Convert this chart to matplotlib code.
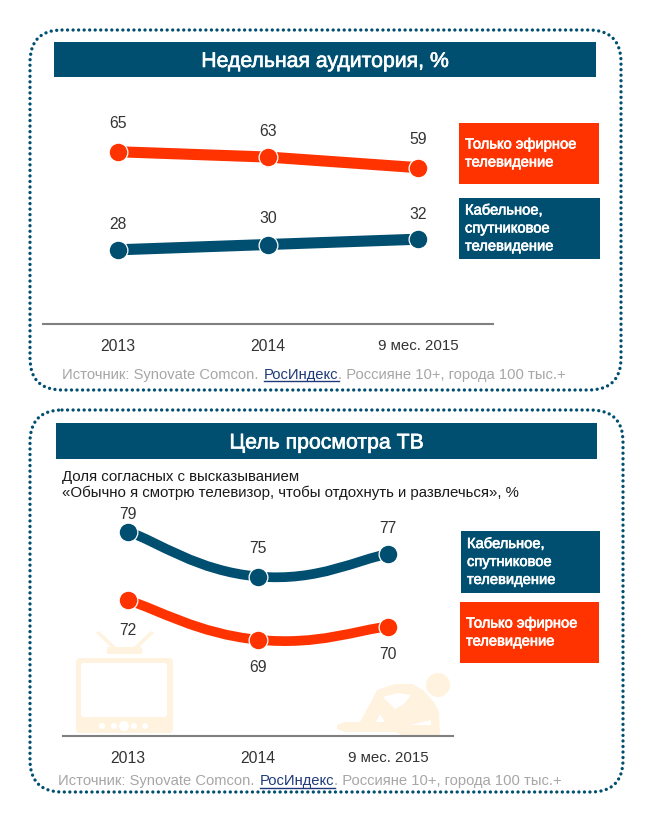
#!/usr/bin/env python3
"""Two TV audience panels: weekly reach and the reason for watching."""

import matplotlib
matplotlib.use('Agg')
import matplotlib.patheffects as pe
import matplotlib.pyplot as plt
from matplotlib.patches import Circle, FancyBboxPatch, PathPatch, Polygon, Rectangle
from matplotlib.path import Path

plt.rcParams['font.family'] = ['Liberation Sans', 'DejaVu Sans']

YEARS = ['2013', '2014', '9 мес. 2015']

AUDIENCE_AIR = [65, 63, 59]
AUDIENCE_CABLE = [28, 30, 32]
PURPOSE_CABLE = [79, 75, 77]
PURPOSE_AIR = [72, 69, 70]

LABEL_AIR = 'Только эфирное\nтелевидение'
LABEL_CABLE = 'Кабельное,\nспутниковое\nтелевидение'
TITLE_TOP = 'Недельная аудитория, %'
TITLE_BOTTOM = 'Цель просмотра ТВ'
SUBTITLE = ('Доля согласных с высказыванием\n'
            '«Обычно я смотрю телевизор, чтобы отдохнуть и развлечься», %')

NAVY = '#004F71'
RED = '#FF3300'
CREAM = '#FFF2DE'
GREY = '#A6A6A6'
LINK = '#1F3A7A'
WIDTH, HEIGHT = 650, 823
HEAVY = [pe.withStroke(linewidth=0.45, foreground='white')]

fig = plt.figure(figsize=(WIDTH / 100, HEIGHT / 100), dpi=100)

# page layer in pixels, y going down, for frames, banners and icons
page = fig.add_axes([0, 0, 1, 1], zorder=0)
page.set_xlim(0, WIDTH)
page.set_ylim(HEIGHT, 0)
page.axis('off')


def chart_axes(left, right, top, bottom, ylim):
    ax = fig.add_axes([left / WIDTH, 1 - bottom / HEIGHT,
                       (right - left) / WIDTH, (bottom - top) / HEIGHT], zorder=2)
    ax.patch.set_alpha(0)
    ax.set_xlim(-0.5, 2.5)
    ax.set_ylim(*ylim)
    for side in ['top', 'left', 'right']:
        ax.spines[side].set_visible(False)
    ax.spines['bottom'].set_color('#808080')
    ax.spines['bottom'].set_linewidth(1.5)
    ax.set_yticks([])
    ax.set_xticks(range(len(YEARS)))
    ax.set_xticklabels(YEARS, fontsize=11.3, color='#333333')
    ax.get_xticklabels()[2].set_fontsize(10.8)
    ax.tick_params(axis='x', length=0, pad=11)
    return ax


def smooth_path(xs, ys, tension=0.5):
    """Catmull-Rom style bezier through the points, like a smoothed Excel line."""
    verts = [(xs[0], ys[0])]
    codes = [Path.MOVETO]
    n = len(xs)
    for i in range(n - 1):
        x0, y0 = (xs[i - 1], ys[i - 1]) if i > 0 else (xs[i], ys[i])
        x3, y3 = (xs[i + 2], ys[i + 2]) if i + 2 < n else (xs[i + 1], ys[i + 1])
        verts.append((xs[i] + (xs[i + 1] - x0) * tension / 3,
                      ys[i] + (ys[i + 1] - y0) * tension / 3))
        verts.append((xs[i + 1] - (x3 - xs[i]) * tension / 3,
                      ys[i + 1] - (y3 - ys[i]) * tension / 3))
        verts.append((xs[i + 1], ys[i + 1]))
        codes += [Path.CURVE4] * 3
    return Path(verts, codes)


def draw_series(ax, values, color, offsets, smooth=False, linewidth=8.0):
    xs = list(range(len(values)))
    if smooth:
        ax.add_patch(PathPatch(smooth_path(xs, values, tension=0.7), fill=False,
                               edgecolor=color, linewidth=linewidth, capstyle='butt'))
    else:
        ax.plot(xs, values, color=color, linewidth=linewidth, solid_capstyle='butt')
    ax.plot(xs, values, linestyle='none', marker='o', markersize=13.5,
            markerfacecolor=color, markeredgecolor='white', markeredgewidth=0.9,
            clip_on=False)
    for x, value, offset in zip(xs, values, offsets):
        ax.annotate(str(value), (x, value), xytext=(0, offset * 0.72),
                    textcoords='offset points', ha='center', va='center',
                    fontsize=11.3, color='#333333')


def draw_frame(left, top, right, bottom):
    page.add_patch(FancyBboxPatch((left, top), right - left, bottom - top,
                                  boxstyle='round,pad=0,rounding_size=32',
                                  fill=False, edgecolor=NAVY, linewidth=2.4,
                                  linestyle=(0, (0.01, 1.65)), capstyle='round'))


def draw_banner(left, top, right, bottom, text):
    page.add_patch(Rectangle((left, top), right - left, bottom - top, color=NAVY, linewidth=0))
    page.text((left + right) / 2, (top + bottom) / 2, text, color='white',
              fontsize=15.3, ha='center', va='center_baseline', path_effects=HEAVY)


def draw_legend_box(left, top, right, bottom, color, text):
    page.add_patch(Rectangle((left, top), right - left, bottom - top, color=color, linewidth=0))
    page.text(left + 6, (top + bottom) / 2, text, color='white', fontsize=10.6,
              ha='left', va='center', linespacing=1.36, path_effects=HEAVY)


def draw_source(x, y):
    style = dict(fontsize=10.65, va='center_baseline', ha='left')
    page.text(x, y, 'Источник: Synovate Comcon.', color=GREY, **style)
    link = page.text(x + 202, y, 'РосИндекс', color=LINK, **style)
    # the tail starts where the link really ends
    link_end = link.get_window_extent(fig.canvas.get_renderer()).x1
    page.plot([x + 202, link_end], [y + 8, y + 8], color=LINK, linewidth=1)
    page.text(link_end, y, '. Россияне 10+, города 100 тыс.+', color=GREY, **style)


def draw_tv():
    page.add_patch(FancyBboxPatch((76, 658), 97, 75, boxstyle='round,pad=0,rounding_size=4',
                                  color=CREAM, linewidth=0))
    page.add_patch(FancyBboxPatch((81, 663), 86, 54, boxstyle='round,pad=0,rounding_size=3',
                                  color='white', linewidth=0))
    page.add_patch(Rectangle((107, 647), 35, 7, color=CREAM, linewidth=0))
    page.add_patch(Polygon([(112, 648), (96, 633), (99, 631), (116, 647)], color=CREAM, linewidth=0))
    page.add_patch(Polygon([(138, 648), (154, 633), (151, 631), (134, 647)], color=CREAM, linewidth=0))
    for x, radius in [(102, 3), (114, 3), (124, 5), (134, 3), (145, 3)]:
        page.add_patch(Circle((x, 726), radius, color='white', linewidth=0))


def draw_person():
    page.add_patch(Circle((438, 685), 12, color=CREAM, linewidth=0))
    page.add_patch(Polygon([(377, 690), (395, 684), (412, 684), (423, 690), (434, 702),
                            (439, 712), (440, 735), (402, 735), (395, 732), (345, 732),
                            (337, 729), (337, 725), (345, 722), (360, 722), (372, 700)],
                           color=CREAM, linewidth=0))
    page.add_patch(Polygon([(383, 697), (398, 693), (411, 695), (404, 704), (395, 709)],
                           color='white', linewidth=0))
    page.add_patch(Polygon([(376, 722), (385, 722), (380, 714)], color='white', linewidth=0))
    page.add_patch(Polygon([(410, 725), (431, 720), (431, 725)], color='white', linewidth=0))


# top panel
draw_frame(30, 30, 621, 390)
draw_banner(54, 42, 596, 77, TITLE_TOP)
draw_legend_box(459, 123, 599, 184, RED, LABEL_AIR)
draw_legend_box(459, 198, 600, 259, NAVY, LABEL_CABLE)
draw_source(62, 373)

top_ax = chart_axes(43, 493, 59, 324, (0, 100))
draw_series(top_ax, AUDIENCE_AIR, RED, [28, 26, 28])
draw_series(top_ax, AUDIENCE_CABLE, NAVY, [25, 26, 25])

# bottom panel
draw_frame(30, 410, 623, 792)
draw_banner(56, 423, 597, 459, TITLE_BOTTOM)
page.text(62, 485, SUBTITLE, color='#1A1A1A', fontsize=10.8, ha='left', va='center',
          linespacing=1.2)
draw_legend_box(461, 531, 600, 593, NAVY, LABEL_CABLE)
draw_legend_box(460, 602, 599, 663, RED, LABEL_AIR)
draw_tv()
draw_person()
draw_source(58, 780)

# the source slide spaces these two series unevenly, so each gets its own scale
cable_ax = chart_axes(63, 453, 470, 736, (60.82, 84.47))
draw_series(cable_ax, PURPOSE_CABLE, NAVY, [17, 28, 26], smooth=True, linewidth=7.0)
air_ax = chart_axes(63, 453, 470, 736, (61.68, 81.91))
air_ax.spines['bottom'].set_visible(False)
air_ax.set_xticklabels([])
draw_series(air_ax, PURPOSE_AIR, RED, [-30, -28, -28], smooth=True, linewidth=7.0)

fig.savefig('out.png', dpi=100)
